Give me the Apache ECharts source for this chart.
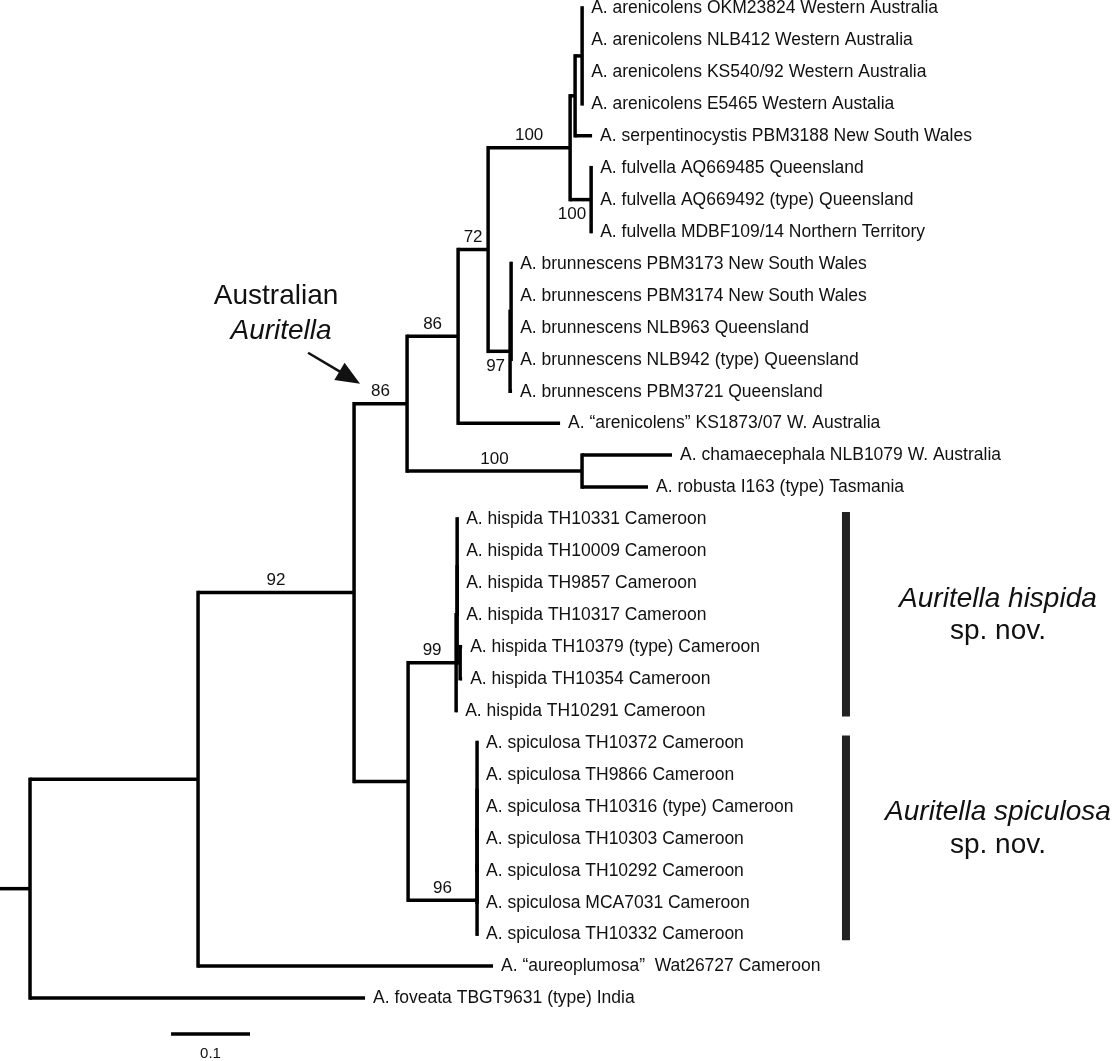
<!DOCTYPE html>
<html><head><meta charset="utf-8">
<script src="https://cdn.jsdelivr.net/npm/echarts@6/dist/echarts.min.js"></script>
<style>html,body{margin:0;padding:0;background:#fff}#c{width:1117px;height:1061px}</style>
</head><body><div id="c"></div><script>
// ---------------- DATA ----------------
const leafNames = [
  'A. arenicolens OKM23824 Western Australia',
  'A. arenicolens NLB412 Western Australia',
  'A. arenicolens KS540/92 Western Australia',
  'A. arenicolens E5465 Western Austalia',
  'A. serpentinocystis PBM3188 New South Wales',
  'A. fulvella AQ669485 Queensland',
  'A. fulvella AQ669492 (type) Queensland',
  'A. fulvella MDBF109/14 Northern Territory',
  'A. brunnescens PBM3173 New South Wales',
  'A. brunnescens PBM3174 New South Wales',
  'A. brunnescens NLB963 Queensland',
  'A. brunnescens NLB942 (type) Queensland',
  'A. brunnescens PBM3721 Queensland',
  'A. \u201carenicolens\u201d KS1873/07 W. Australia',
  'A. chamaecephala NLB1079 W. Australia',
  'A. robusta I163 (type) Tasmania',
  'A. hispida TH10331 Cameroon',
  'A. hispida TH10009 Cameroon',
  'A. hispida TH9857 Cameroon',
  'A. hispida TH10317 Cameroon',
  'A. hispida TH10379 (type) Cameroon',
  'A. hispida TH10354 Cameroon',
  'A. hispida TH10291 Cameroon',
  'A. spiculosa TH10372 Cameroon',
  'A. spiculosa TH9866 Cameroon',
  'A. spiculosa TH10316 (type) Cameroon',
  'A. spiculosa TH10303 Cameroon',
  'A. spiculosa TH10292 Cameroon',
  'A. spiculosa MCA7031 Cameroon',
  'A. spiculosa TH10332 Cameroon',
  'A. \u201caureoplumosa\u201d  Wat26727 Cameroon',
  'A. foveata TBGT9631 (type) India'
];
// internal node each leaf hangs from, and the leaf's branch length
const leafParent = [8,8,8,8,7,9,9,9,11,11,11,11,10,4,12,12,16,16,16,16,17,17,14,21,21,21,21,20,19,18,1,0];
const leafLength = [0.0013,0.0013,0.0013,0.0013,0.0215,0.0013,0.0013,0.0013,0.0013,0.0013,0.0013,0.0013,0.0025,
  0.1291,0.1139,0.0835,0.0013,0.0013,0.0013,0.0013,0.0025,0.0025,0.0013,
  0.0013,0.0013,0.0013,0.0013,0.0013,0.0013,0.0013,0.3734,0.4241];
// internal nodes: parent node (-1 = root), branch length, bootstrap support (null = none)
const nodeParent  = [-1, 0, 1, 2, 3, 4, 5, 6, 7, 6, 5, 10, 3, 2, 13, 14, 15, 15, 13, 18, 19, 20];
const nodeLength  = [0, 0.2127, 0.1975, 0.0671, 0.0646, 0.0380, 0.1038, 0.0063, 0.0089, 0.0266, 0.0278, 0.0013,
  0.2215, 0.0684, 0.0608, 0.0013, 0, 0.0038, 0.0873, 0, 0, 0];
const nodeSupport = [null, null, 92, 86, 86, 72, 100, null, null, 100, 97, null, 100, null, 99, null, null, null, 96, null, null, null];
// bracketed clades on the right
const cladeTitles = ['Auritella hispida', 'Auritella spiculosa'];
const cladeSub    = ['sp. nov.', 'sp. nov.'];
const cladeFirst  = [16, 23];
const cladeLast   = [22, 29];
const annotationTitle = ['Australian', 'Auritella'];
const scaleBarLength = 0.1;
const scaleBarLabel = '0.1';

// ---------------- LAYOUT (computed) ----------------
const FONT = '"Liberation Sans", Arial, Helvetica, sans-serif';
const nLeaf = leafNames.length, nNode = nodeParent.length;
const nodeX = new Array(nNode).fill(0);
for (let j = 1; j < nNode; j++) nodeX[j] = nodeX[nodeParent[j]] + nodeLength[j];
const leafX = leafParent.map((p, i) => nodeX[p] + leafLength[i]);
const kids = Array.from({length: nNode}, () => []);
nodeParent.forEach((p, j) => { if (p >= 0) kids[p].push({t: 'n', i: j}); });
leafParent.forEach((p, i) => kids[p].push({t: 'l', i}));
const nodeY = [], nodeMin = [], nodeSpan = [];
function lay(j) {
  const items = kids[j].map(c => {
    if (c.t === 'l') return {y: c.i, min: c.i};
    lay(c.i); return {y: nodeY[c.i], min: nodeMin[c.i]};
  }).sort((a, b) => a.min - b.min);
  nodeMin[j] = items[0].min;
  nodeSpan[j] = [items[0].y, items[items.length - 1].y];
  nodeY[j] = (nodeSpan[j][0] + nodeSpan[j][1]) / 2;
}
lay(0);

const ROOT_STUB = 0.038;
// segments: [x1, y1, x2, y2, vertical?]
const segs = [];
segs.push([-ROOT_STUB, nodeY[0], 0, nodeY[0], 0]);
for (let j = 1; j < nNode; j++) segs.push([nodeX[nodeParent[j]], nodeY[j], nodeX[j], nodeY[j], 0]);
for (let i = 0; i < nLeaf; i++) segs.push([nodeX[leafParent[i]], i, leafX[i], i, 0]);
for (let j = 0; j < nNode; j++) segs.push([nodeX[j], nodeSpan[j][0], nodeX[j], nodeSpan[j][1], 1]);

const supportData = [];
const BELOW = new Set([9, 10]);
nodeSupport.forEach((s, j) => {
  if (s == null) return;
  supportData.push([nodeX[nodeParent[j]], nodeX[j], nodeY[j], s, BELOW.has(j) ? 1 : 0]);
});

const LW = 3.5;
const chart = echarts.init(document.getElementById('c'), null, {renderer: 'canvas'});
chart.setOption({
  animation: false,
  backgroundColor: '#fff',
  grid: {left: 0, right: 0, top: 8, bottom: 63},
  xAxis: {type: 'value', min: -0.038, max: 1.376, show: false},
  yAxis: {type: 'value', min: 0, max: 31, inverse: true, show: false},
  series: [
    { // branches
      type: 'custom', clip: false, data: segs,
      renderItem: (p, api) => {
        const a = api.coord([api.value(0), api.value(1)]);
        const b = api.coord([api.value(2), api.value(3)]);
        const v = api.value(4) === 1;
        return {type: 'line', shape: {x1: a[0], y1: a[1], x2: b[0], y2: b[1]},
          style: {stroke: '#000', lineWidth: LW, lineCap: v ? 'square' : 'butt'}};
      }
    },
    { // leaf labels
      type: 'custom', clip: false,
      data: leafNames.map((n, i) => [leafX[i], i]),
      renderItem: (p, api) => {
        const c = api.coord([api.value(0), api.value(1)]);
        return {type: 'text', style: {text: leafNames[p.dataIndex], x: c[0] + 8, y: c[1] + 0.5,
          fill: '#111', font: '17.5px ' + FONT, align: 'left', verticalAlign: 'middle'}};
      }
    },
    { // bootstrap supports
      type: 'custom', clip: false, data: supportData,
      renderItem: (p, api) => {
        const a = api.coord([api.value(0), api.value(2)]);
        const b = api.coord([api.value(1), api.value(2)]);
        const below = api.value(4) === 1;
        return {type: 'text', style: {text: String(api.value(3)),
          x: below ? b[0] - 5 : (a[0] + b[0]) / 2, y: below ? a[1] + 15 : a[1] - 12,
          fill: '#111', font: '17px ' + FONT, align: below ? 'right' : 'center', verticalAlign: 'middle'}};
      }
    },
    { // clade brackets
      type: 'custom', clip: false,
      data: cladeFirst.map((f, k) => [f, cladeLast[k]]),
      renderItem: (p, api) => {
        const t = api.coord([1.0329, api.value(0)]);
        const b = api.coord([1.0329, api.value(1)]);
        const tx = api.coord([1.2253, 0])[0];
        const mid = (t[1] + b[1]) / 2 + (p.dataIndex === 1 ? -10 : 0);
        return {type: 'group', children: [
          {type: 'rect', shape: {x: t[0] - 4, y: t[1] - 7, width: 8, height: b[1] - t[1] + 13},
            style: {fill: '#222'}},
          {type: 'text', style: {text: cladeTitles[p.dataIndex], x: tx, y: mid - 16,
            fill: '#111', font: 'italic 28px ' + FONT, align: 'center', verticalAlign: 'middle'}},
          {type: 'text', style: {text: cladeSub[p.dataIndex], x: tx, y: mid + 17,
            fill: '#111', font: '28px ' + FONT, align: 'center', verticalAlign: 'middle'}}
        ]};
      }
    },
    { // Australian Auritella arrow
      type: 'custom', clip: false,
      data: [[nodeX[nodeParent[3]], nodeY[3]]],
      renderItem: (p, api) => {
        const P = api.coord([api.value(0), api.value(1)]);
        const tip = [P[0] + 6, P[1] - 20], tail = [P[0] - 46, P[1] - 51];
        const dx = tip[0] - tail[0], dy = tip[1] - tail[1], L = Math.hypot(dx, dy);
        const ux = dx / L, uy = dy / L, len = 24, hw = 10;
        const bx = tip[0] - ux * len, by = tip[1] - uy * len;
        return {type: 'group', children: [
          {type: 'line', shape: {x1: tail[0], y1: tail[1], x2: bx + ux * 2, y2: by + uy * 2},
            style: {stroke: '#111', lineWidth: 2.5}},
          {type: 'polygon', shape: {points: [tip, [bx - uy * hw, by + ux * hw], [bx + uy * hw, by - ux * hw]]},
            style: {fill: '#111'}},
          {type: 'text', style: {text: annotationTitle[0], x: P[0] - 78, y: P[1] - 107,
            fill: '#111', font: '28px ' + FONT, align: 'center', verticalAlign: 'middle'}},
          {type: 'text', style: {text: annotationTitle[1], x: P[0] - 73, y: P[1] - 72,
            fill: '#111', font: 'italic 28px ' + FONT, align: 'center', verticalAlign: 'middle'}}
        ]};
      }
    },
    { // scale bar
      type: 'custom', clip: false,
      data: [[0.1785, 32.13, scaleBarLength]],
      renderItem: (p, api) => {
        const a = api.coord([api.value(0), api.value(1)]);
        const b = api.coord([api.value(0) + api.value(2), api.value(1)]);
        return {type: 'group', children: [
          {type: 'line', shape: {x1: a[0], y1: a[1], x2: b[0], y2: b[1]},
            style: {stroke: '#000', lineWidth: 3.5}},
          {type: 'text', style: {text: scaleBarLabel, x: (a[0] + b[0]) / 2, y: a[1] + 20,
            fill: '#111', font: '15px ' + FONT, align: 'center', verticalAlign: 'middle'}}
        ]};
      }
    }
  ]
});
</script></body></html>
